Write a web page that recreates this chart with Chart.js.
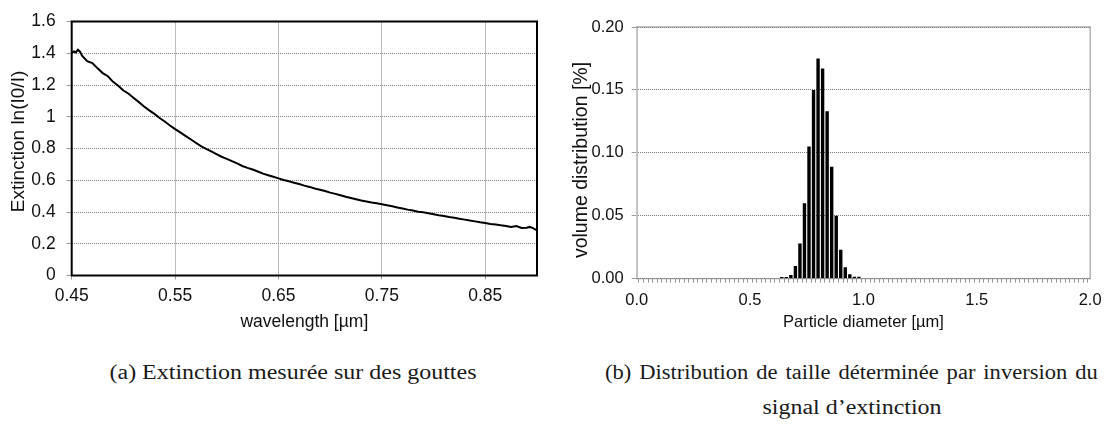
<!DOCTYPE html>
<html>
<head>
<meta charset="utf-8">
<script src="https://cdn.jsdelivr.net/npm/chart.js@4.4.1/dist/chart.umd.min.js"></script>
<style>
  html, body { margin: 0; padding: 0; background: #fff; }
  body { width: 1109px; height: 425px; position: relative; overflow: hidden; }
  canvas { position: absolute; top: 0; }
  .cap { position: absolute; font-family: "Liberation Serif", serif; font-size: 20.5px; line-height: 24px; color: #1a1a1a; white-space: nowrap; }
</style>
</head>
<body>
<canvas id="ext" width="550" height="345" style="left:0px"></canvas>
<canvas id="dist" width="549" height="345" style="left:560px"></canvas>
<div class="cap" style="left:293px; top:360px; transform: translateX(-50%) scaleX(1.17);">(a) Extinction mesurée sur des gouttes</div>
<div class="cap" style="left:605px; top:360px; width:448px; transform-origin: left top; transform: scaleX(1.1); text-align: justify; text-align-last: justify;">(b) Distribution de taille déterminée par inversion du</div>
<div class="cap" style="left:852px; top:395px; transform: translateX(-50%) scaleX(1.17);">signal d’extinction</div>
<script>
// ---------- data: (a) extinction spectrum ----------
const wavelength = [
  0.450, 0.452, 0.454, 0.456, 0.458, 0.460, 0.465, 0.470, 0.475, 0.480,
  0.485, 0.490, 0.495, 0.500, 0.505, 0.510, 0.515, 0.520, 0.525, 0.530,
  0.535, 0.540, 0.545, 0.550, 0.555, 0.560, 0.565, 0.570, 0.575, 0.580,
  0.585, 0.590, 0.595, 0.600, 0.605, 0.610, 0.615, 0.620, 0.625, 0.630,
  0.635, 0.640, 0.645, 0.650, 0.655, 0.660, 0.665, 0.670, 0.675, 0.680,
  0.685, 0.690, 0.695, 0.700, 0.705, 0.710, 0.715, 0.720, 0.725, 0.730,
  0.735, 0.740, 0.745, 0.750, 0.755, 0.760, 0.765, 0.770, 0.775, 0.780,
  0.785, 0.790, 0.795, 0.800, 0.805, 0.810, 0.815, 0.820, 0.825, 0.830,
  0.835, 0.840, 0.845, 0.850, 0.855, 0.860, 0.865, 0.870, 0.875, 0.880,
  0.885, 0.890, 0.893, 0.896, 0.900
];
const extinction = [
  1.400, 1.412, 1.405, 1.422, 1.410, 1.385, 1.350, 1.338, 1.305, 1.275,
  1.255, 1.220, 1.195, 1.165, 1.145, 1.118, 1.092, 1.065, 1.040, 1.018,
  0.992, 0.970, 0.945, 0.922, 0.902, 0.880, 0.858, 0.836, 0.815, 0.798,
  0.782, 0.765, 0.748, 0.735, 0.720, 0.706, 0.690, 0.678, 0.668, 0.655,
  0.642, 0.632, 0.622, 0.612, 0.602, 0.594, 0.584, 0.576, 0.566, 0.558,
  0.548, 0.540, 0.532, 0.522, 0.514, 0.505, 0.496, 0.488, 0.480, 0.472,
  0.466, 0.460, 0.455, 0.449, 0.442, 0.436, 0.428, 0.422, 0.415, 0.410,
  0.402, 0.398, 0.392, 0.386, 0.380, 0.375, 0.368, 0.364, 0.357, 0.352,
  0.346, 0.341, 0.335, 0.330, 0.325, 0.321, 0.316, 0.312, 0.306, 0.311,
  0.299, 0.301, 0.306, 0.298, 0.285
];
const extXTicks = [0.45, 0.55, 0.65, 0.75, 0.85];
const extYTicks = [0, 0.2, 0.4, 0.6, 0.8, 1, 1.2, 1.4, 1.6];

// ---------- data: (b) size distribution ----------
const diameter = [0.64, 0.66, 0.68, 0.70, 0.72, 0.74, 0.76, 0.78, 0.80,
                  0.82, 0.84, 0.86, 0.88, 0.90, 0.92, 0.94, 0.96, 0.98];
const volumeDist = [0.0013, 0.0013, 0.003, 0.010, 0.028, 0.060, 0.105, 0.150, 0.175,
                    0.167, 0.133, 0.089, 0.050, 0.023, 0.009, 0.0035, 0.0015, 0.0015];
const distXLabels = ['0.0', '0.5', '1.0', '1.5', '2.0'];
const distYLabels = ['0.00', '0.05', '0.10', '0.15', '0.20'];

// ---------- helpers ----------
const framePlugin = {
  id: 'frame',
  afterDraw(chart, args, opts) {
    const { ctx, chartArea: a } = chart;
    ctx.save();
    ctx.strokeStyle = opts.color;
    ctx.lineWidth = opts.width;
    ctx.lineCap = 'square';
    ctx.beginPath();
    const s = opts.sides;
    if (s.includes('top'))    { ctx.moveTo(a.left, a.top);    ctx.lineTo(a.right, a.top); }
    if (s.includes('right'))  { ctx.moveTo(a.right, a.top);   ctx.lineTo(a.right, a.bottom); }
    if (s.includes('bottom')) { ctx.moveTo(a.left, a.bottom); ctx.lineTo(a.right, a.bottom); }
    if (s.includes('left'))   { ctx.moveTo(a.left, a.top);    ctx.lineTo(a.left, a.bottom); }
    ctx.stroke();
    ctx.restore();
  }
};

// rotated y-axis title, drawn as text on the canvas
const yTitlePlugin = {
  id: 'ytitle',
  afterDraw(chart, args, opts) {
    const { ctx } = chart;
    ctx.save();
    ctx.translate(opts.x, opts.y);
    ctx.rotate(-Math.PI / 2);
    ctx.font = opts.size + 'px "Liberation Sans", Arial, sans-serif';
    ctx.fillStyle = '#111';
    ctx.textAlign = 'center';
    ctx.textBaseline = 'middle';
    ctx.fillText(opts.text, 0, 0);
    ctx.restore();
  }
};

const sansL = { family: '"Liberation Sans", Arial, sans-serif', size: 17.5 };
const sansR = { family: '"Liberation Sans", Arial, sans-serif', size: 16.5 };

// ---------- chart (a) ----------
new Chart(document.getElementById('ext'), {
  type: 'line',
  data: {
    datasets: [{
      data: wavelength.map((w, i) => ({ x: w, y: extinction[i] })),
      borderColor: '#000',
      borderWidth: 2,
      pointRadius: 0,
      tension: 0,
      fill: false
    }]
  },
  options: {
    responsive: false,
    devicePixelRatio: 1,
    animation: false,
    layout: { padding: { left: 0, right: 13, top: 14, bottom: 9.5 } },
    plugins: {
      legend: { display: false },
      tooltip: { enabled: false },
      frame: { color: '#000', width: 2, sides: ['top', 'right', 'bottom', 'left'] },
      ytitle: { text: 'Extinction ln(I0/I)', x: 18.5, y: 141.5, size: 19 }
    },
    scales: {
      x: {
        type: 'linear',
        min: 0.45, max: 0.90,
        afterBuildTicks: s => { s.ticks = extXTicks.map(v => ({ value: v })); },
        afterFit: s => { s.height = 60; },
        ticks: {
          font: sansL, color: '#111', padding: 6.5, maxRotation: 0, minRotation: 0, autoSkip: false,
          callback: v => Number(v).toFixed(2)
        },
        grid: { color: '#808080', lineWidth: 1, tickLength: 4, tickColor: '#999' },
        border: { display: false, dash: [1, 1] },
        title: { display: true, text: 'wavelength [µm]', font: sansL, color: '#111', padding: { top: 0, bottom: 3 } }
      },
      y: {
        min: 0, max: 1.6,
        afterBuildTicks: s => { s.ticks = extYTicks.map(v => ({ value: v })); },
        afterFit: s => { s.width = 71.7; },
        ticks: {
          font: sansL, color: '#111', padding: 11,
          callback: v => String(+Number(v).toFixed(1))
        },
        grid: { color: '#808080', lineWidth: 1, tickLength: 5, tickColor: '#999' },
        border: { display: false, dash: [1, 1] }
      }
    }
  },
  plugins: [framePlugin, yTitlePlugin]
});

// ---------- chart (b) ----------
new Chart(document.getElementById('dist'), {
  type: 'bar',
  data: {
    datasets: [{
      data: diameter.map((d, i) => ({ x: d, y: volumeDist[i] })),
      backgroundColor: '#000',
      borderWidth: 0,
      barPercentage: 0.75,
      categoryPercentage: 1.0
    }]
  },
  options: {
    responsive: false,
    devicePixelRatio: 1,
    animation: false,
    layout: { padding: { left: 0, right: 16.7, top: 27, bottom: 6.3 } },
    plugins: {
      legend: { display: false },
      tooltip: { enabled: false },
      frame: { color: '#8a8a8a', width: 1, sides: ['top', 'right', 'bottom'] },
      ytitle: { text: 'volume distribution [%]', x: 21.7, y: 160, size: 19.5 }
    },
    scales: {
      x: {
        type: 'linear',
        min: 0, max: 2,
        offset: false,
        afterFit: s => { s.height = 60; },
        ticks: {
          stepSize: 0.02, autoSkip: false, maxRotation: 0, minRotation: 0,
          font: sansR, color: '#111', padding: 7.4,
          callback: v => {
            const r = Math.round(v * 100);
            return r % 50 === 0 ? distXLabels[r / 50] : '';
          }
        },
        grid: { drawOnChartArea: false, tickLength: 4, tickColor: '#9a9a9a', lineWidth: 1 },
        border: { display: false },
        title: { display: true, text: 'Particle diameter [µm]', font: sansR, color: '#111', padding: { top: 0, bottom: 6.8 } }
      },
      y: {
        min: 0, max: 0.2,
        afterFit: s => { s.width = 76.7; },
        ticks: {
          stepSize: 0.05, font: sansR, color: '#111', padding: 8,
          callback: v => distYLabels[Math.round(v / 0.05)]
        },
        grid: { color: '#7a7a7a', lineWidth: 1, tickLength: 5, tickColor: '#9a9a9a' },
        border: { display: true, color: '#c4c4c4', width: 2, dash: [1, 1] }
      }
    }
  },
  plugins: [framePlugin, yTitlePlugin]
});
</script>
</body>
</html>
